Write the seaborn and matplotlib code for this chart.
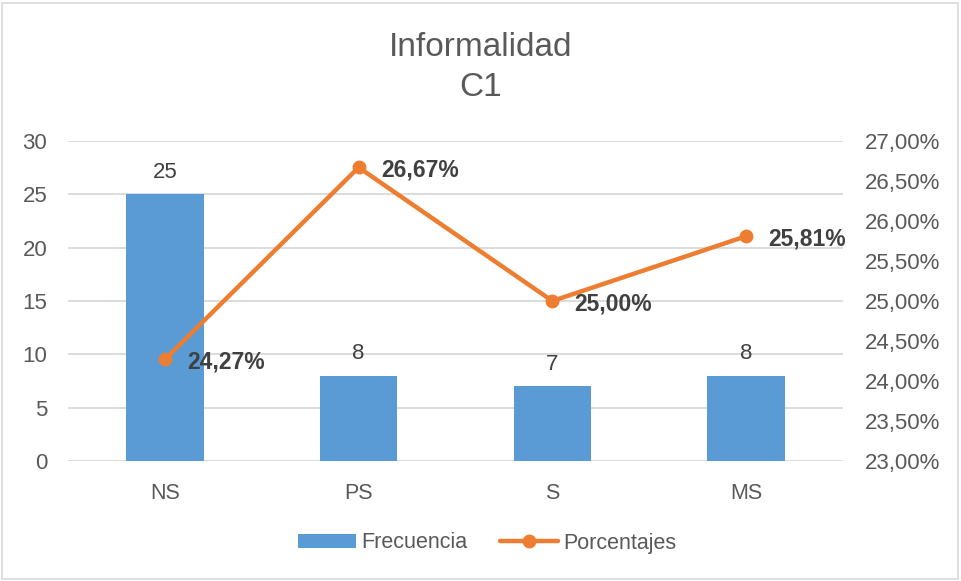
import matplotlib
matplotlib.use("Agg")
import matplotlib.pyplot as plt
from matplotlib.patches import Rectangle
from matplotlib.lines import Line2D
import seaborn as sns
import pandas as pd

categories = ["NS", "PS", "S", "MS"]
frecuencia = [25, 8, 7, 8]
porcentajes = [24.27, 26.67, 25.00, 25.81]
left_ticks = [0, 5, 10, 15, 20, 25, 30]
right_ticks = [23.0, 23.5, 24.0, 24.5, 25.0, 25.5, 26.0, 26.5, 27.0]

BLUE = "#5B9BD5"
ORANGE = "#ED7D31"
TICK = "#595959"
LABEL = "#404040"
GRID = "#D9D9D9"

sns.set_theme(style="white")
plt.rcParams["font.family"] = ["Liberation Sans", "DejaVu Sans"]

df = pd.DataFrame({"cat": categories, "freq": frecuencia, "pct": porcentajes})

fig = plt.figure(figsize=(9.61, 5.81), dpi=100)
ax = fig.add_axes([68 / 961, 1 - 461 / 581, (843 - 68) / 961, 320 / 581])

sns.barplot(data=df, x="cat", y="freq", color=BLUE, width=0.4, saturation=1,
            linewidth=0, edgecolor="none", ax=ax, zorder=2)
ax.set_xlim(-0.5, 3.5)
ax.set_ylim(0, 30)
ax.set_yticks(left_ticks)
ax.set_yticklabels([str(t) for t in left_ticks])
ax.yaxis.grid(True, color=GRID, linewidth=1.3, zorder=0)
ax.set_axisbelow(True)
ax.set_xlabel("")
ax.set_ylabel("")
for s in ax.spines.values():
    s.set_visible(False)
ax.tick_params(axis="y", length=0, pad=15, labelsize=16, labelcolor=TICK)
ax.tick_params(axis="x", length=0, pad=16, labelsize=15.5, labelcolor=TICK)

for i, v in enumerate(frecuencia):
    ax.annotate(str(v), (i, v), xytext=(0, 16), textcoords="offset points",
                ha="center", va="center", fontsize=16, color=LABEL)

ax2 = ax.twinx()
sns.lineplot(data=df, x="cat", y="pct", sort=False, color=ORANGE, linewidth=3.2,
             marker="o", markersize=10, markeredgewidth=0, ax=ax2, zorder=3)
ax2.set_ylim(23, 27)
ax2.set_yticks(right_ticks)
ax2.set_yticklabels([f"{t:.2f}%".replace(".", ",") for t in right_ticks])
ax2.set_xlabel("")
ax2.set_ylabel("")
for s in ax2.spines.values():
    s.set_visible(False)
ax2.tick_params(axis="y", length=0, pad=16, labelsize=16, labelcolor=TICK)
ax2.grid(False)

for i, v in enumerate(porcentajes):
    ax2.annotate(f"{v:.2f}%".replace(".", ","), (i, v), xytext=(16, -2),
                 textcoords="offset points", ha="left", va="center",
                 fontsize=16.5, fontweight="bold", color=LABEL)

fig.text(0.5, 1 - 48 / 581, "Informalidad", ha="center", va="center",
         fontsize=24, color=TICK)
fig.text(0.5, 1 - 88 / 581, "C1", ha="center", va="center",
         fontsize=24, color=TICK)

handles = [
    Rectangle((0, 0), 1, 1, facecolor=BLUE, edgecolor="none"),
    Line2D([0], [0], color=ORANGE, linewidth=3.2, marker="o", markersize=10,
           markeredgewidth=0),
]
fig.legend(handles, ["Frecuencia", "Porcentajes"], loc="center",
           bbox_to_anchor=(487 / 961, 1 - 543 / 581), ncol=2, frameon=False,
           fontsize=15.5, labelcolor=TICK, handlelength=2.7, handleheight=0.6,
           handletextpad=0.25, columnspacing=1.5)

fig.add_artist(Rectangle((2 / 961, 2 / 581), 956 / 961, 576 / 581,
                         transform=fig.transFigure, fill=False,
                         edgecolor=GRID, linewidth=1.2))

fig.savefig("out.png", dpi=100)
